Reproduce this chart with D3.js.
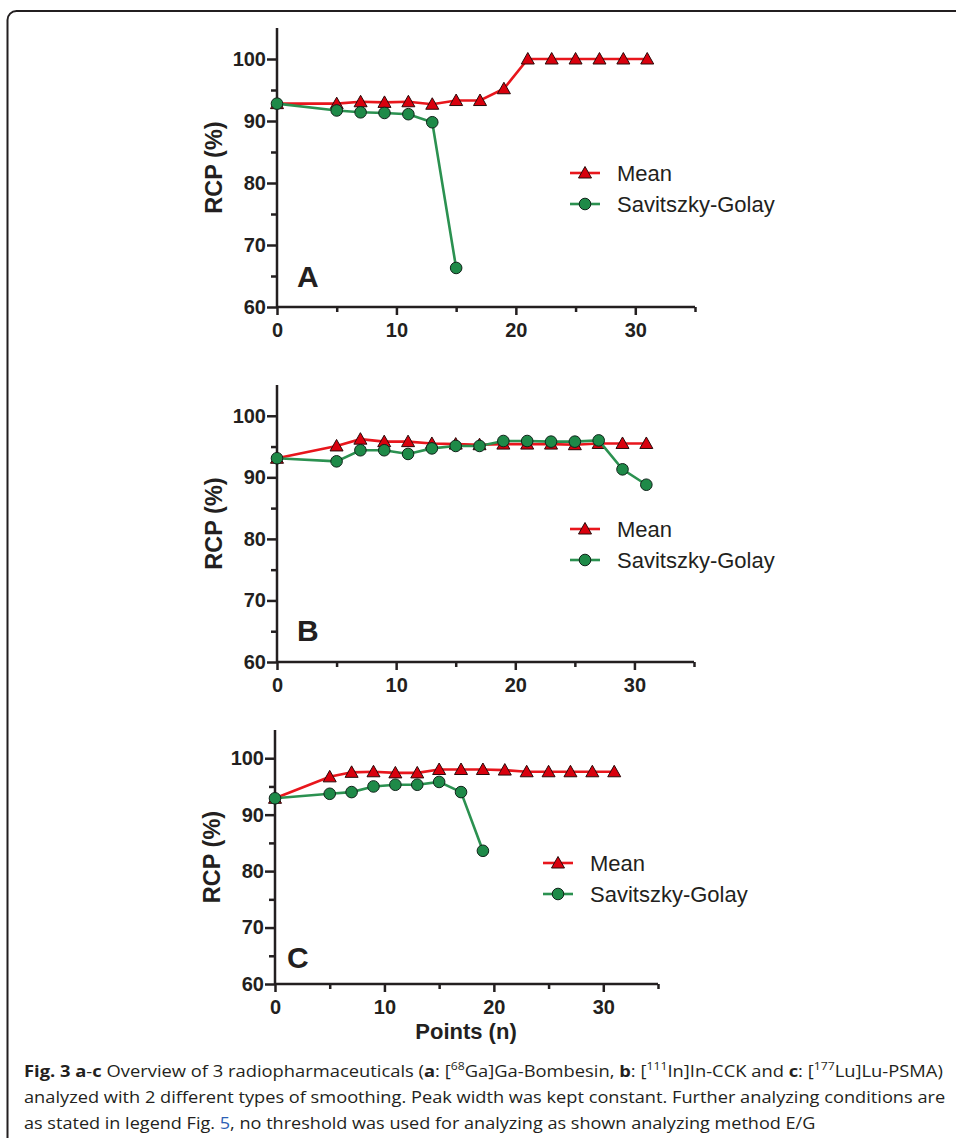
<!DOCTYPE html>
<html>
<head>
<meta charset="utf-8">
<script src="https://cdn.jsdelivr.net/npm/d3@7/dist/d3.min.js"></script>
<style>
  body { margin: 0; background: #fff; }
  svg { display: block; }
  .axis path, .axis line { stroke: #231f20; stroke-width: 2.5px; }
  .axis text { font-family: "Liberation Sans", Arial, sans-serif; font-weight: bold; font-size: 20px; fill: #231f20; }
  .ttl { font-family: "Liberation Sans", Arial, sans-serif; font-weight: bold; fill: #231f20; }
  .leg { font-family: "Liberation Sans", Arial, sans-serif; font-size: 22px; fill: #231f20; }
  .cap { font-family: "Open Sans", sans-serif; font-size: 16.5px; fill: #231f20; }
</style>
</head>
<body>
<svg id="fig" width="956" height="1138"></svg>
<script>
// data
const xMean = [0, 5, 7, 9, 11, 13, 15, 17, 19, 21, 23, 25, 27, 29, 31]
const meanA = [92.8, 92.8, 93.1, 93.0, 93.1, 92.7, 93.3, 93.3, 95.2, 100, 100, 100, 100, 100, 100]
const xSgA = [0, 5, 7, 9, 11, 13, 15]
const sgA = [92.8, 91.7, 91.4, 91.3, 91.1, 89.8, 66.3]

const meanB = [93.1, 95.1, 96.2, 95.8, 95.8, 95.5, 95.4, 95.3, 95.4, 95.4, 95.4, 95.3, 95.5, 95.5, 95.5]
const xSgB = [0, 5, 7, 9, 11, 13, 15, 17, 19, 21, 23, 25, 27, 29, 31]
const sgB = [93.1, 92.6, 94.4, 94.4, 93.8, 94.7, 95.1, 95.1, 95.9, 95.9, 95.8, 95.8, 96.0, 91.3, 88.8]

const meanC = [92.9, 96.7, 97.5, 97.6, 97.4, 97.4, 98.0, 98.0, 98.0, 97.9, 97.6, 97.6, 97.6, 97.6, 97.6]
const xSgC = [0, 5, 7, 9, 11, 13, 15, 17, 19]
const sgC = [92.9, 93.7, 94.0, 95.0, 95.3, 95.3, 95.8, 94.0, 83.6]

const xTicks = [0, 5, 10, 15, 20, 25, 30, 35]
const yTicks = [60, 65, 70, 75, 80, 85, 90, 95, 100, 105]
const seriesNames = ['Mean', 'Savitszky-Golay']

const svg = d3.select('#fig')

// figure frame (rounded box running off the page)
svg.append('rect')
  .attr('x', 7.5).attr('y', 11)
  .attr('width', 1000).attr('height', 1200)
  .attr('rx', 9)
  .attr('fill', 'none')
  .attr('stroke', '#231f20')
  .attr('stroke-width', 2)

const panels = [
  { letter: 'A', mean: meanA, xSg: xSgA, sg: sgA, left: 277, right: 695, top: 28, bottom: 307,
    legX: 570, legY: 173, letterX: 297, letterY: 287, showX: false },
  { letter: 'B', mean: meanB, xSg: xSgB, sg: sgB, left: 277, right: 694, top: 385, bottom: 662,
    legX: 570, legY: 529, letterX: 297, letterY: 641, showX: false },
  { letter: 'C', mean: meanC, xSg: xSgC, sg: sgC, left: 275, right: 658, top: 730, bottom: 984,
    legX: 543, legY: 863, letterX: 287, letterY: 968, showX: true }
]

function triangle(cx, cy) {
  return `M${cx},${cy - 6.5}L${cx + 6.5},${cy + 5}L${cx - 6.5},${cy + 5}Z`
}

panels.forEach(p => {
  const x = d3.scaleLinear().domain([0, 35]).range([p.left, p.right])
  const y = d3.scaleLinear().domain([60, 105]).range([p.bottom, p.top])
  const g = svg.append('g')

  // axes, major ticks labelled, minor ticks shorter
  const xAxis = g.append('g')
    .attr('class', 'axis')
    .attr('transform', `translate(0, ${p.bottom})`)
    .call(d3.axisBottom(x).tickValues(xTicks).tickSize(8).tickPadding(8)
      .tickFormat(d => d % 10 === 0 ? d : ''))
  xAxis.selectAll('.tick line').attr('y2', d => d % 10 === 0 ? 8 : 5)
  xAxis.select('.domain').attr('d', `M${p.left},0H${p.right}`)

  const yAxis = g.append('g')
    .attr('class', 'axis')
    .attr('transform', `translate(${p.left}, 0)`)
    .call(d3.axisLeft(y).tickValues(yTicks).tickSize(10).tickPadding(1)
      .tickFormat(d => d % 10 === 0 && d <= 100 ? d : ''))
  yAxis.selectAll('.tick line').attr('x2', d => d % 10 === 0 && d <= 100 ? -10 : -6)
  yAxis.selectAll('.tick').filter(d => d === 105).select('line').remove()
  yAxis.select('.domain').attr('d', `M0,${p.top}V${p.bottom}`)

  // axis title
  g.append('text')
    .attr('class', 'ttl')
    .attr('transform', `translate(${p.left - 55}, ${(y(60) + y(105)) / 2}) rotate(-90)`)
    .attr('text-anchor', 'middle')
    .style('font-size', '23.5px')
    .text('RCP (%)')

  if (p.showX) {
    g.append('text')
      .attr('class', 'ttl')
      .attr('x', 466).attr('y', p.bottom + 55)
      .attr('text-anchor', 'middle')
      .style('font-size', '22px')
      .text('Points (n)')
  }

  g.append('text')
    .attr('class', 'ttl')
    .attr('x', p.letterX).attr('y', p.letterY)
    .style('font-size', '30px')
    .text(p.letter)

  const line = d3.line().x(d => x(d[0])).y(d => y(d[1]))
  const meanPts = xMean.map((v, i) => [v, p.mean[i]])
  const sgPts = p.xSg.map((v, i) => [v, p.sg[i]])

  g.append('path').datum(meanPts)
    .attr('d', line).attr('fill', 'none')
    .attr('stroke', '#e8161c').attr('stroke-width', 2.6)
  g.selectAll('.tri').data(meanPts).enter().append('path')
    .attr('class', 'tri')
    .attr('d', d => triangle(x(d[0]), y(d[1])))
    .attr('fill', '#d9000d').attr('stroke', '#2a0a0a').attr('stroke-width', 1)

  g.append('path').datum(sgPts)
    .attr('d', line).attr('fill', 'none')
    .attr('stroke', '#2b9150').attr('stroke-width', 2.6)
  g.selectAll('.dot').data(sgPts).enter().append('circle')
    .attr('class', 'dot')
    .attr('cx', d => x(d[0])).attr('cy', d => y(d[1]))
    .attr('r', 5.8)
    .attr('fill', '#1e8a48').attr('stroke', '#10241a').attr('stroke-width', 1)

  // legend
  seriesNames.forEach((name, i) => {
    const ly = p.legY + i * 31
    const lg = g.append('g')
    lg.append('line')
      .attr('x1', p.legX).attr('x2', p.legX + 30)
      .attr('y1', ly).attr('y2', ly)
      .attr('stroke', i === 0 ? '#e8161c' : '#2b9150').attr('stroke-width', 2.6)
    if (i === 0) {
      lg.append('path').attr('d', triangle(p.legX + 15, ly))
        .attr('fill', '#d9000d').attr('stroke', '#2a0a0a').attr('stroke-width', 1)
    } else {
      lg.append('circle').attr('cx', p.legX + 15).attr('cy', ly).attr('r', 5.8)
        .attr('fill', '#1e8a48').attr('stroke', '#10241a').attr('stroke-width', 1)
    }
    lg.append('text')
      .attr('class', 'leg')
      .attr('x', p.legX + 47).attr('y', ly + 8)
      .text(name)
  })
})

// caption
const capLines = [
  { y: 1077, w: 920, parts: [
    ['Fig. 3 a', 'b'], ['-', ''], ['c', 'b'], [' Overview of 3 radiopharmaceuticals (', ''],
    ['a', 'b'], [': [', ''], ['68', 's'], ['Ga]Ga-Bombesin, ', ''], ['b', 'b'], [': [', ''],
    ['111', 's'], ['In]In-CCK and ', ''], ['c', 'b'], [': [', ''], ['177', 's'], ['Lu]Lu-PSMA)', '']] },
  { y: 1103, w: 922, parts: [
    ['analyzed with 2 different types of smoothing. Peak width was kept constant. Further analyzing conditions are', '']] },
  { y: 1129, w: 792, parts: [
    ['as stated in legend Fig. ', ''], ['5', 'l'], [', no threshold was used for analyzing as shown analyzing method E/G', '']] }
]

capLines.forEach(c => {
  const t = svg.append('text').attr('class', 'cap')
    .attr('x', 24).attr('y', c.y)
  c.parts.forEach(([s, k]) => {
    const ts = t.append('tspan').text(s)
    if (k === 'b') ts.attr('font-weight', 'bold')
    if (k === 's') ts.attr('baseline-shift', 'super').attr('font-size', '11px')
    if (k === 'l') ts.attr('fill', '#2d5fb5')
  })
  const w = t.node().getComputedTextLength()
  const sx = c.w / w
  t.attr('x', null)
    .attr('transform', `translate(24, ${c.y}) scale(${sx}, 1)`)
    .attr('y', 0)
})
</script>
</body>
</html>
